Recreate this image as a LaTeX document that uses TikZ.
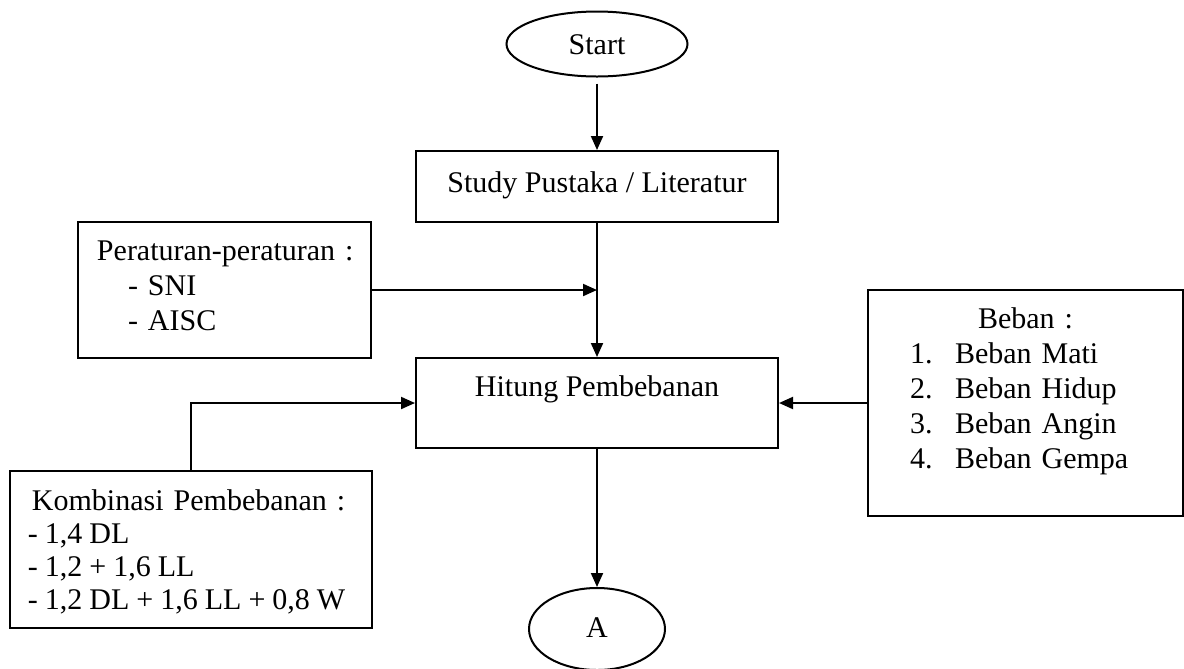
\documentclass[tikz,border=0pt]{standalone}
\usepackage{fontspec}
\setmainfont{Liberation Serif}
\usetikzlibrary{shapes.geometric}
\usetikzlibrary{arrows.meta}
\newcommand{\flmainw}{144.8pt}
\newcommand{\flstudyh}{28.4pt}
\newcommand{\flcalch}{36pt}
\newcommand{\flsidex}{7.6pt}
\newcommand{\flindent}{12.4pt}
\newcommand{\flnumw}{18pt}
\newcommand{\flnarrow}{\spaceskip=2.8pt\relax}

\begin{document}
\begin{tikzpicture}[x=0.4pt, y=-0.4pt, line width=0.8pt,
    font=\fontsize{12}{14}\selectfont,
    flbox/.style={draw, rectangle, inner sep=0pt},
    flterm/.style={draw, ellipse, inner sep=0pt},
    flarrow/.style={-{Triangle[length=5.6pt,width=4.8pt]}}]

    \useasboundingbox (0,0) rectangle (1184,668);

    \node [flterm, minimum width=72.4pt, minimum height=26pt,
      text height=8.6pt, text depth=0pt] (start) at (597,44) {Start};

    \node [flbox, minimum width=\flmainw, minimum height=\flstudyh,
      text height=9pt, text depth=4.6pt] (study) at (597,186.5)
      {Study Pustaka / Literatur};

    \node [flbox, minimum width=117.2pt, minimum height=54.4pt,
      inner xsep=\flsidex, text width=102pt, align=left,
      text height=8pt, text depth=32pt] (rules) at (224.5,290)
      {\mbox{Peraturan-peraturan :}\\
       \mbox{\hspace*{\flindent}- SNI}\\
       \mbox{\hspace*{\flindent}- AISC}};

    \node [flbox, minimum width=\flmainw, minimum height=\flcalch,
      text height=9pt, text depth=14.6pt] (calc) at (597,403)
      {Hitung Pembebanan};

    \node [flbox, minimum width=126pt, minimum height=90.4pt,
      inner xsep=16.8pt, text width=92.4pt, align=left,
      text height=10pt, text depth=70pt] (loads) at (1025.5,403)
      {\makebox[\linewidth][c]{Beban :}\\
       \makebox[\flnumw][l]{1.}\mbox{Beban Mati}\\
       \makebox[\flnumw][l]{2.}\mbox{Beban Hidup}\\
       \makebox[\flnumw][l]{3.}\mbox{Beban Angin}\\
       \makebox[\flnumw][l]{4.}\mbox{Beban Gempa}};

    \node [flbox, minimum width=\flmainw, minimum height=62.8pt,
      inner xsep=7.2pt, text width=130.4pt, align=left,
      font=\fontsize{12}{13.2}\selectfont,
      text height=9pt, text depth=40.6pt] (combo) at (191,549.5)
      {\mbox{\hspace*{1.6pt}Kombinasi Pembebanan :}\\
       \mbox{\flnarrow- 1,4 DL}\\
       \mbox{\flnarrow- 1,2 + 1,6 LL}\\
       \mbox{\flnarrow- 1,2 DL + 1,6 LL + 0,8 W}};

    \node [flterm, minimum width=54.4pt, minimum height=32.8pt,
      text height=8.2pt, text depth=1.8pt] (endA) at (597,629) {A};

    \coordinate (rulesin) at (study.south |- rules.east);

    \draw [flarrow, shorten <=2.4pt] (start) -- (study);
    \draw [flarrow] (study) -- (calc);
    \draw [flarrow] (rules.east) -- (rulesin);
    \draw [flarrow] (combo.north) |- (calc.west);
    \draw [flarrow] (loads.west) -- (calc.east);
    \draw [flarrow] (calc) -- (endA);

\end{tikzpicture}
\end{document}
